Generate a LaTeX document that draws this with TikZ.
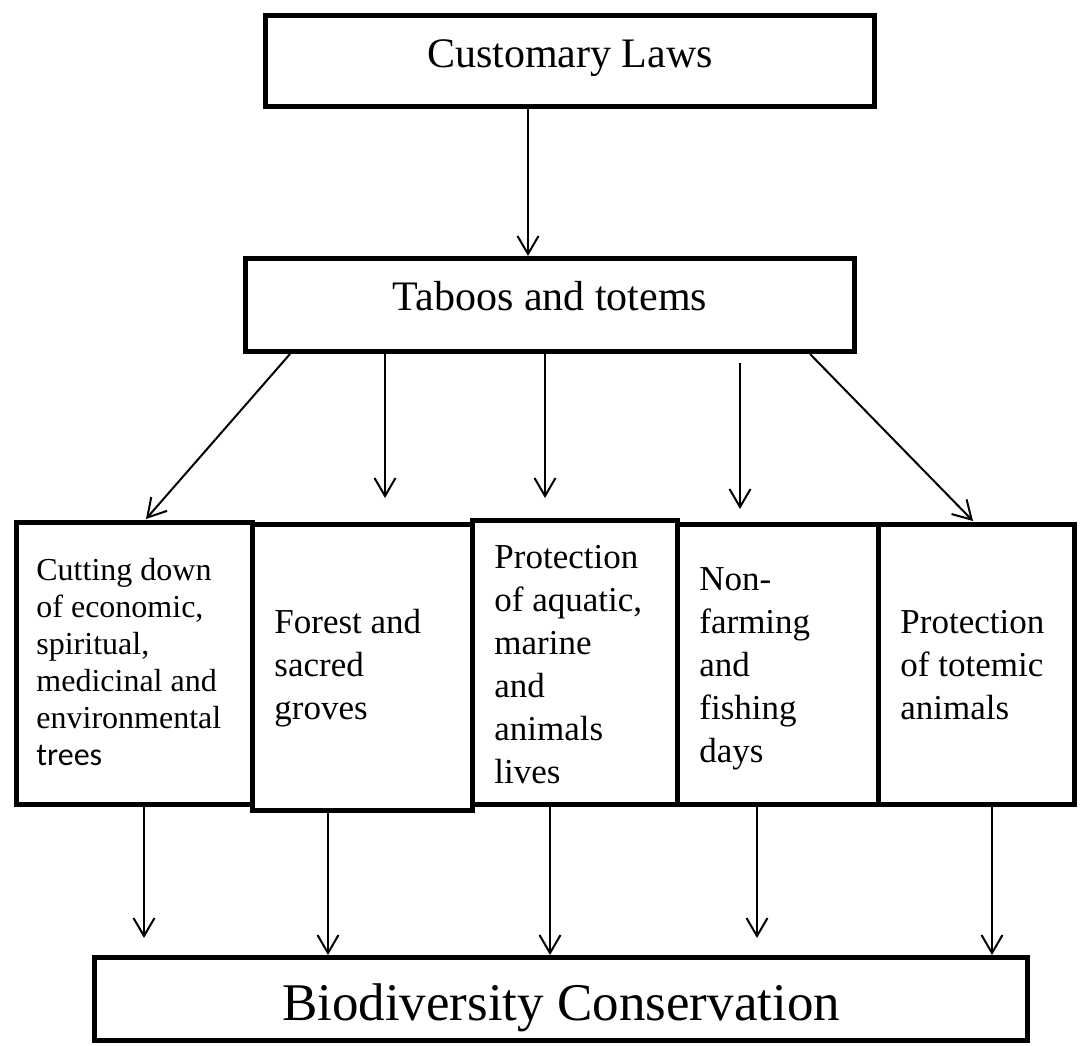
\documentclass[tikz,border=0pt]{standalone}
\usepackage{fontspec}
\setmainfont{Liberation Serif}
\newfontfamily\calibri{Carlito}
\usetikzlibrary{arrows.meta,calc}
\begin{document}
\begin{tikzpicture}[x=0.5pt,y=-0.5pt,
  box/.style={draw, line width=2.5pt, rectangle, inner sep=0pt, anchor=center},
  lbl/.style={anchor=north west, inner sep=0pt, align=left},
  smalllbl/.style={font=\fontsize{16}{18.5}\selectfont},
  midlbl/.style={font=\fontsize{17.5}{21.5}\selectfont},
  arr/.style={line width=1pt, -{Straight Barb[length=9pt,width=10.5pt,line width=1pt]}}]
\fill[white] (0,0) rectangle (1082,1045);
\useasboundingbox (0,0) rectangle (1082,1045);
% top boxes
\node[box, minimum width=304.5pt, minimum height=45.5pt, text height=6pt, text depth=0pt,
      font=\fontsize{21}{25}\selectfont] (cl) at (570,61) {Customary Laws};
\node[box, minimum width=304.5pt, minimum height=46.5pt, text height=5pt, text depth=0pt,
      font=\fontsize{21}{25}\selectfont] (tb) at (550,305) {Taboos and totems};
% lower boxes
\node[box, minimum width=118pt, minimum height=141pt] (b1) at (134.5,663.5) {};
\node[box, minimum width=110pt, minimum height=142.75pt] (b2) at (362.5,667.25) {};
\node[box, minimum width=102.5pt, minimum height=142pt] (b3) at (575,662.5) {};
\node[box, minimum width=100.25pt, minimum height=140pt] (b4) at (777.75,664.5) {};
\node[box, minimum width=98pt, minimum height=140pt] (b5) at (976,664.5) {};
% bottom box
\node[box, minimum width=466.5pt, minimum height=41.5pt, text height=21pt, text depth=0pt,
      font=\fontsize{26.5}{30}\selectfont] (bio) at (561,999) {Biodiversity Conservation};
% texts of lower boxes
\node[lbl, midlbl] (t2) at (274,603) {\strut Forest and\\sacred\\groves};
\node[lbl, midlbl] (t3) at (494,538) {\strut Protection\\of aquatic,\\marine\\and\\animals\\lives};
\node[lbl, midlbl] (t4) at (699,560) {\strut Non-\\farming\\and\\fishing\\days};
\node[lbl, midlbl] (t5) at (900,603) {\strut Protection\\of totemic\\animals};
\node[lbl, smalllbl] (t1) at (36,554) {\strut Cutting down\\of economic,\\spiritual,\\medicinal and\\environmental\\\calibri trees};
% arrow coordinates
\coordinate (a1s) at ($(cl.south)+(-42,0)$);
\coordinate (dl) at (290,0);
\coordinate (e1) at (146,519);
\coordinate (e2) at (385,498);
\coordinate (e3) at (545,498);
\coordinate (s4) at (740,363);
\coordinate (e4) at (740,509);
\coordinate (dr) at (810,0);
\coordinate (e5) at (973,521);
\coordinate (f1) at (144,938);
\coordinate (g2) at (328,0);
\coordinate (g3) at (550,0);
\coordinate (f4) at (757,938);
\coordinate (g5) at (992,0);
% arrows
\draw[arr] (a1s) -- (a1s |- tb.north);
\draw[arr] (dl |- tb.south) -- (e1);
\draw[arr] (e2 |- tb.south) -- (e2);
\draw[arr] (e3 |- tb.south) -- (e3);
\draw[arr] (s4) -- (e4);
\draw[arr] (dr |- tb.south) -- (e5);
\draw[arr] (f1 |- b1.south) -- (f1);
\draw[arr] (g2 |- b2.south) -- (g2 |- bio.north);
\draw[arr] (g3 |- b3.south) -- (g3 |- bio.north);
\draw[arr] (f4 |- b4.south) -- (f4);
\draw[arr] (g5 |- b5.south) -- (g5 |- bio.north);
\end{tikzpicture}
\end{document}
